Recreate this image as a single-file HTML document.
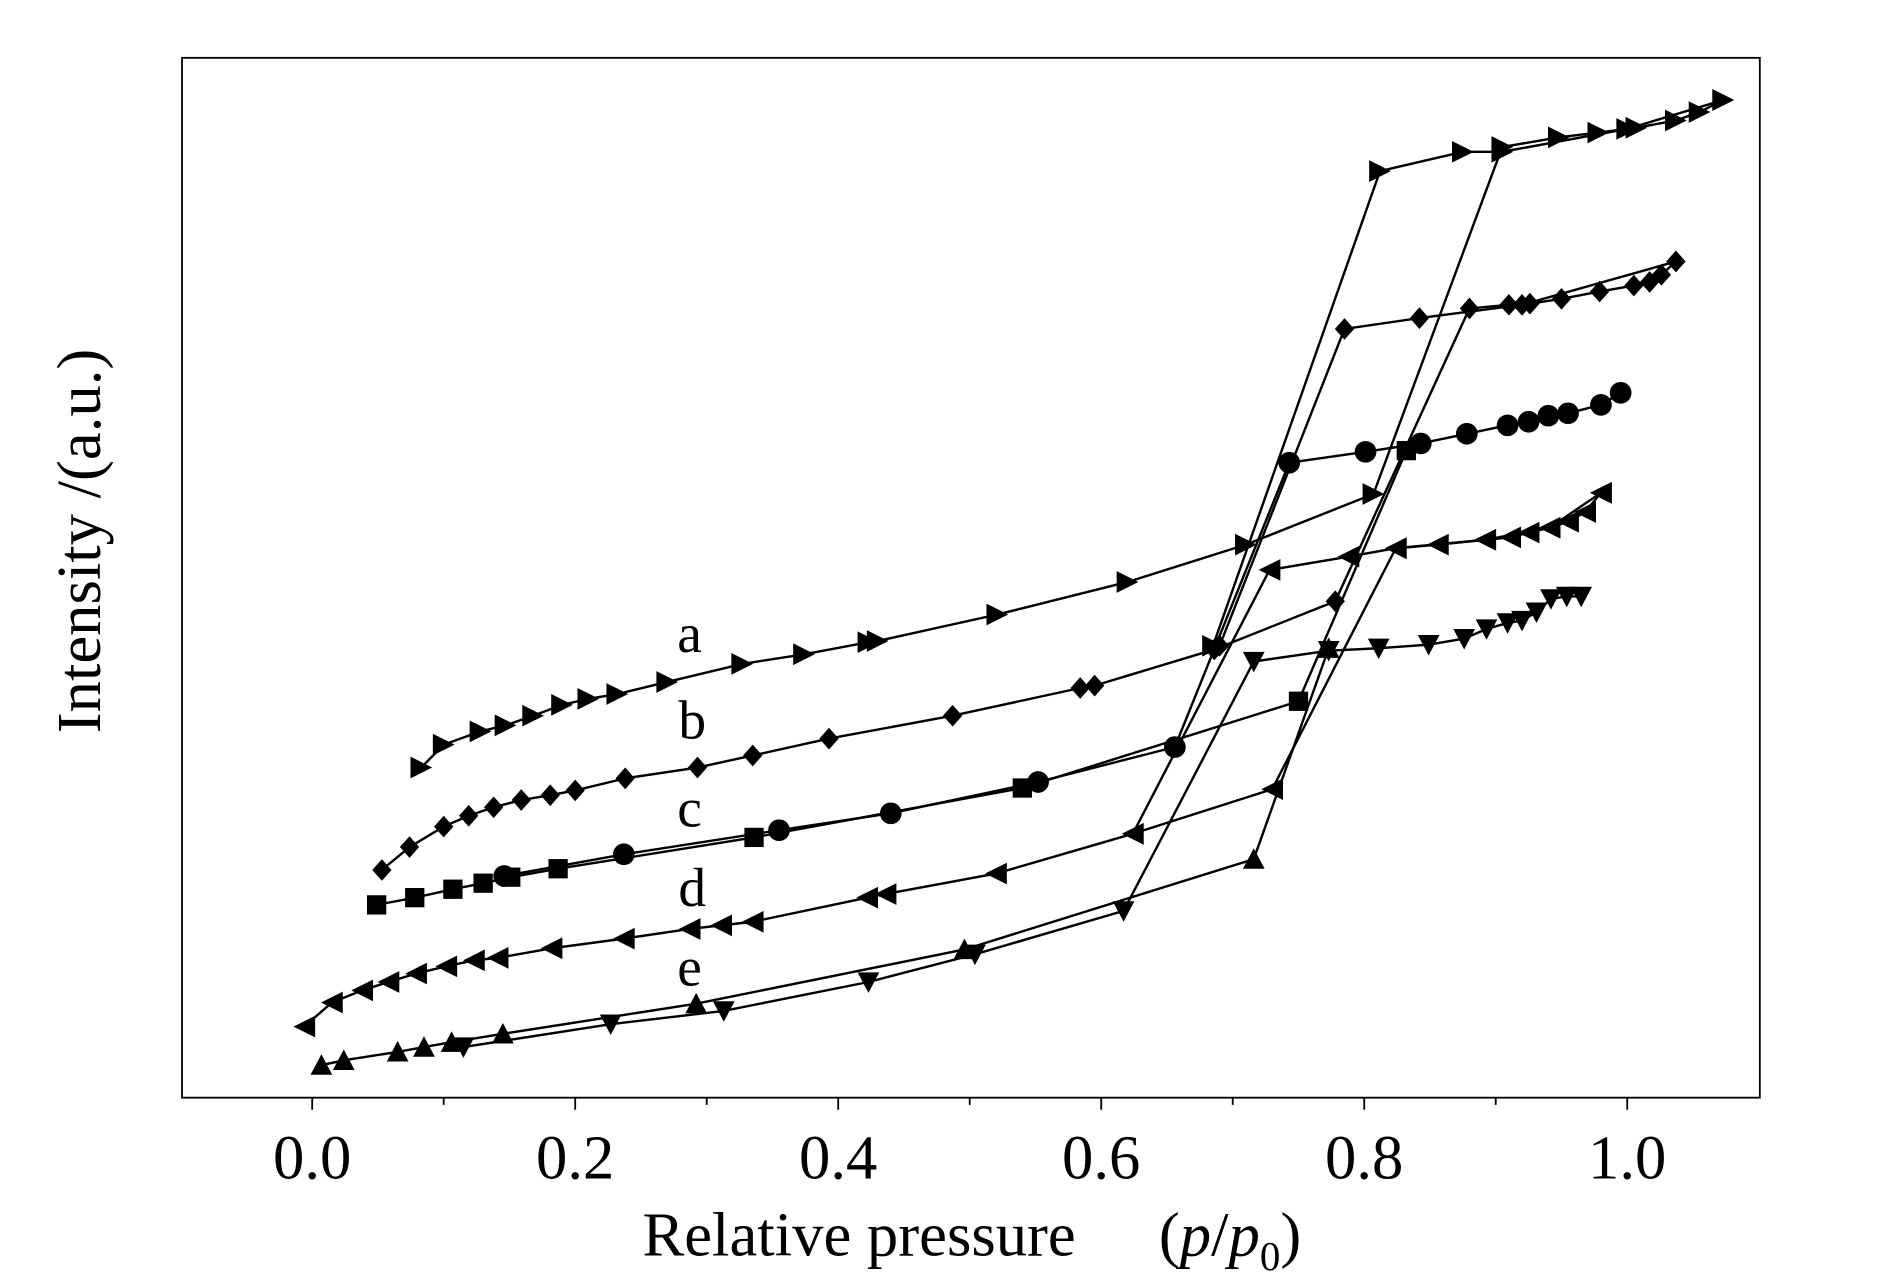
<!DOCTYPE html>
<html><head><meta charset="utf-8"><style>
html,body{margin:0;padding:0;background:#fff;}
svg{display:block;font-family:"Liberation Serif",serif;}
</style></head><body>
<svg id="chart" width="1890" height="1276" viewBox="0 0 1568 1059" preserveAspectRatio="none" xmlns="http://www.w3.org/2000/svg">
<rect x="151" y="48" width="1309" height="863" fill="none" stroke="#000" stroke-width="1.5"/>
<g id="xticks"></g>
<g id="marks"></g>
<text transform="translate(83,449) rotate(-90)" text-anchor="middle" font-size="52">Intensity /(a.u.)</text>
<text x="533" y="1042" font-size="52">Relative pressure<tspan dx="69">(</tspan><tspan font-style="italic">p</tspan>/<tspan font-style="italic">p</tspan><tspan font-size="34" dy="12">0</tspan><tspan dy="-12">)</tspan></text>
</svg>
<script>
const xTicks=[0.0,0.2,0.4,0.6,0.8,1.0];
const xTickLabels=["0.0","0.2","0.4","0.6","0.8","1.0"];
const seriesLabels=["a","b","c","d","e"];
const labelPos=[[0.287,37.0],[0.289,29.8],[0.287,22.5],[0.289,15.9],[0.287,9.3]];
const aAds=[[0.083,27.4],[0.10,29.3],[0.128,30.4],[0.147,30.9],[0.168,31.7],[0.19,32.6],[0.21,33.1],[0.232,33.5],[0.27,34.5],[0.327,36.0],[0.374,36.8],[0.423,37.8],[0.43,37.9],[0.521,40.1],[0.62,42.8],[0.71,45.9],[0.807,50.1],[0.905,78.9],[0.948,79.7],[0.978,80.1],[1.007,80.5],[1.037,81.1],[1.055,81.8],[1.073,82.8]];
const aDes=[[1.073,82.8],[1.0,80.4],[0.905,78.5],[0.875,78.5],[0.812,76.9],[0.685,37.5]];
const bAds=[[0.053,18.9],[0.074,20.8],[0.10,22.5],[0.119,23.4],[0.138,24.1],[0.159,24.7],[0.181,25.1],[0.2,25.5],[0.238,26.5],[0.293,27.4],[0.335,28.4],[0.393,29.8],[0.487,31.7],[0.584,34.0],[0.595,34.2],[0.686,37.2],[0.778,41.2],[0.88,65.5],[0.91,65.8],[0.926,65.9],[0.95,66.3],[0.979,66.9],[1.005,67.4],[1.017,67.7],[1.026,68.3],[1.037,69.4]];
const bDes=[[1.037,69.4],[0.92,65.8],[0.842,64.7],[0.785,63.8],[0.69,37.5]];
const cAds=[[0.049,16.0],[0.078,16.6],[0.107,17.3],[0.13,17.8],[0.151,18.3],[0.187,19.0],[0.336,21.6],[0.54,25.7],[0.75,32.9],[0.832,53.7]];
const cDes=[[0.995,58.5],[0.98,57.5],[0.955,56.8],[0.94,56.6],[0.925,56.1],[0.909,55.8],[0.878,55.1],[0.843,54.3],[0.801,53.6],[0.743,52.7],[0.656,29.1],[0.552,26.2],[0.44,23.6],[0.355,22.2],[0.237,20.2],[0.146,18.4]];
const dAds=[[-0.006,5.9],[0.015,7.9],[0.038,8.9],[0.058,9.6],[0.079,10.3],[0.102,10.9],[0.123,11.4],[0.141,11.6],[0.182,12.4],[0.237,13.2],[0.287,14.0],[0.311,14.3],[0.335,14.6],[0.422,16.6],[0.436,16.9],[0.52,18.6],[0.624,21.9],[0.73,25.6],[0.824,45.6],[0.856,45.9],[0.892,46.3],[0.911,46.5],[0.925,46.9],[0.941,47.3],[0.955,47.8],[0.968,48.6],[0.98,50.2]];
const dDes=[[0.98,50.2],[0.941,47.3],[0.892,46.3],[0.824,45.6],[0.788,44.9],[0.728,43.8],[0.624,21.9]];
const eAds=[[0.007,2.7],[0.024,3.1],[0.065,3.8],[0.085,4.2],[0.106,4.6],[0.145,5.3],[0.292,7.8],[0.496,12.3],[0.716,19.8],[0.773,37.3]];
const eDes=[[0.965,41.6],[0.954,41.6],[0.942,41.4],[0.931,40.3],[0.92,39.6],[0.909,39.4],[0.893,38.9],[0.876,38.1],[0.849,37.6],[0.811,37.3],[0.773,37.1],[0.716,36.2],[0.617,15.5],[0.504,11.9],[0.423,9.6],[0.313,7.2],[0.227,6.1],[0.115,4.2]];

const NS="http://www.w3.org/2000/svg";
const X=v=>259+v*1091;
const Y=v=>911-v*10;
function mk(tag,attrs,parent){const e=document.createElementNS(NS,tag);for(const k in attrs)e.setAttribute(k,attrs[k]);parent.appendChild(e);return e;}
const tg=document.getElementById('xticks');
for(let i=0;i<=10;i++){
  const v=i/10;
  const t=mk('line',{x1:X(v),x2:X(v),y1:911,y2:i%2===0?921:917,stroke:'#000','stroke-width':1.5},tg);
  
  
}
xTicks.forEach((v,i)=>{
  const t=mk('text',{x:X(v),y:978,'text-anchor':'middle','font-size':52},tg);
  t.textContent=xTickLabels[i];
  
  
});
const mg=document.getElementById('marks');
function marker(type,x,y,g){
  const s=9;let p;
  if(type==='right')p=`${x-s},${y-s} ${x+s},${y} ${x-s},${y+s}`;
  else if(type==='left')p=`${x+s},${y-s} ${x-s},${y} ${x+s},${y+s}`;
  else if(type==='up')p=`${x},${y-s} ${x+s},${y+s-1} ${x-s},${y+s-1}`;
  else if(type==='down')p=`${x-s},${y-s+1} ${x+s},${y-s+1} ${x},${y+s}`;
  else if(type==='diamond')p=`${x},${y-s} ${x+s-1},${y} ${x},${y+s} ${x-s+1},${y}`;
  let e;
  if(type==='circle')e=mk('circle',{cx:x,cy:y,r:s,fill:'#000'},g);
  else if(type==='square')e=mk('rect',{x:x-8,y:y-8,width:16,height:16,fill:'#000'},g);
  else e=mk('polygon',{points:p,fill:'#000'},g);
  
  
}
function series(name,data,type){
  const g=mk('g',{},mg);
  
  
  const l=mk('polyline',{points:data.map(d=>X(d[0])+','+Y(d[1])).join(' '),fill:'none',stroke:'#000','stroke-width':2},g);
  
  
  data.forEach(d=>marker(type,X(d[0]),Y(d[1]),g));
}
series('series-a-adsorption',aAds,'right');
series('series-a-desorption',aDes,'right');
series('series-b-adsorption',bAds,'diamond');
series('series-b-desorption',bDes,'diamond');
series('series-c-adsorption',cAds,'square');
series('series-c-desorption',cDes,'circle');
series('series-d-adsorption',dAds,'left');
series('series-d-desorption',dDes,'left');
series('series-e-adsorption',eAds,'up');
series('series-e-desorption',eDes,'down');
seriesLabels.forEach((s,i)=>{
  const t=mk('text',{x:X(labelPos[i][0]),y:Y(labelPos[i][1]),'text-anchor':'middle','font-size':46},mg);
  t.textContent=s;
  
  
});
</script>
</body></html>
